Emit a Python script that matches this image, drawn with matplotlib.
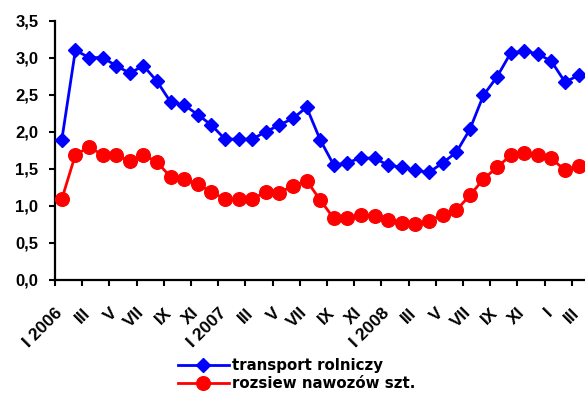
import matplotlib
matplotlib.use("Agg")
import matplotlib.pyplot as plt
import matplotlib.transforms as mtransforms
import numpy as np

tick_labels = ["I 2006", "III", "V", "VII", "IX", "XI",
               "I 2007", "III", "V", "VII", "IX", "XI",
               "I 2008", "III", "V", "VII", "IX", "XI",
               "I", "III"]

transport = [1.89, 3.10, 3.00, 3.00, 2.89, 2.79, 2.89, 2.68, 2.40, 2.36,
             2.23, 2.09, 1.90, 1.90, 1.90, 2.00, 2.09, 2.18, 2.33, 1.89,
             1.55, 1.58, 1.65, 1.64, 1.55, 1.52, 1.48, 1.45, 1.58, 1.72,
             2.03, 2.49, 2.74, 3.06, 3.09, 3.05, 2.95, 2.67, 2.76]

rozsiew = [1.09, 1.69, 1.79, 1.69, 1.69, 1.60, 1.69, 1.59, 1.39, 1.36,
           1.29, 1.19, 1.09, 1.09, 1.09, 1.19, 1.18, 1.27, 1.34, 1.08,
           0.83, 0.83, 0.88, 0.86, 0.81, 0.77, 0.76, 0.80, 0.88, 0.94,
           1.14, 1.36, 1.52, 1.68, 1.71, 1.68, 1.64, 1.48, 1.54]

series_names = ["transport rolniczy", "rozsiew nawozów szt."]

W, H = 585, 398
fig = plt.figure(figsize=(W / 100, H / 100), dpi=100)
left_px, right_px = 55, 599
top_px, bot_px = 20.5, 280
ax = fig.add_axes([left_px / W, (H - bot_px) / H,
                   (right_px - left_px) / W, (bot_px - top_px) / H])

x = np.arange(len(transport))
l1, = ax.plot(x, transport, color="#0000FF", lw=2, marker="D", ms=6.8,
              label=series_names[0], clip_on=False, zorder=3)
l2, = ax.plot(x, rozsiew, color="#FF0000", lw=2, marker="o", ms=9.8,
              label=series_names[1], clip_on=False, zorder=3)

ax.set_xlim(-0.5, 39.5)
ax.set_ylim(0, 3.5)
ax.set_yticks(np.arange(0, 3.51, 0.5))
ax.set_yticklabels([f"{v:.1f}".replace(".", ",") for v in np.arange(0, 3.51, 0.5)],
                   fontsize=12, fontweight="bold", family="Liberation Sans")
tick_pos = np.arange(-0.5, 39.5, 2)[:len(tick_labels)]
ax.set_xticks(tick_pos)
ax.set_xticklabels(tick_labels, rotation=45, ha="right", va="top",
                   rotation_mode="anchor", fontsize=12.5, fontweight="bold",
                   family="Liberation Sans")
offset = mtransforms.ScaledTranslation(-8 / 100, -3 / 100, fig.dpi_scale_trans)
for lab in ax.get_xticklabels():
    lab.set_transform(lab.get_transform() + offset)

for s in ["top", "right"]:
    ax.spines[s].set_visible(False)
for s in ["left", "bottom"]:
    ax.spines[s].set_linewidth(1.6)
    ax.spines[s].set_color("black")
ax.tick_params(axis="both", direction="out", length=4, width=1.5, color="black")
ax.tick_params(axis="x", pad=14)
ax.tick_params(axis="y", pad=8)

leg = fig.legend(handles=[l1, l2], loc="upper left",
                 bbox_to_anchor=(178 / W, 1 - 358 / H),
                 frameon=False, handlelength=3.4, handletextpad=0.2,
                 labelspacing=0.2, borderpad=0, borderaxespad=0,
                 prop={"family": "DejaVu Sans", "weight": "bold", "size": 10.8})

fig.savefig("out.png", dpi=100)
